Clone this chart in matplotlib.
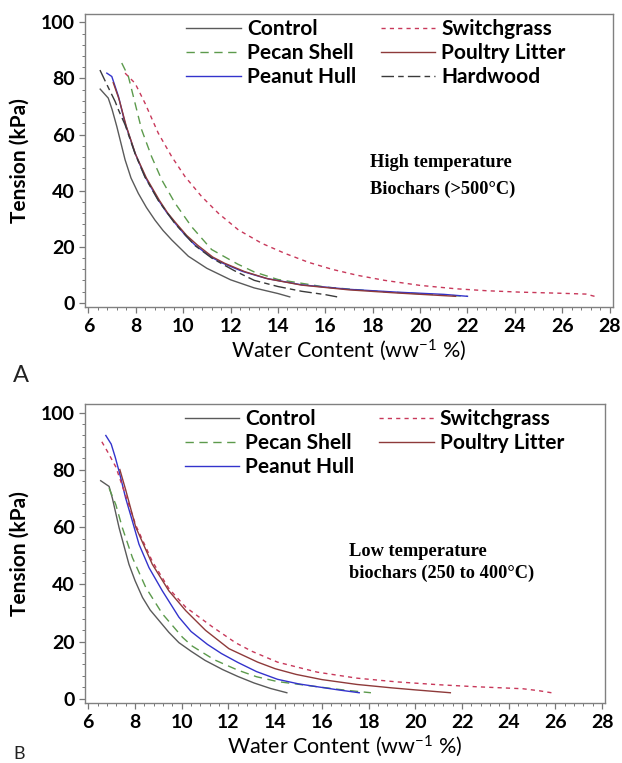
import matplotlib
matplotlib.use("Agg")
import matplotlib.pyplot as plt
from matplotlib.font_manager import FontProperties
from matplotlib.ticker import MultipleLocator, AutoMinorLocator

plt.rcParams["font.family"] = ["Lato", "DejaVu Sans"]
plt.rcParams["mathtext.default"] = "regular"

# ---- high temperature biochars (panel A) ----
ctrl_hi_x = [6.5, 6.84, 7.0, 7.2, 7.55, 7.8, 8.11, 8.45, 8.81, 9.15, 9.52, 10.22, 11.0, 12.0, 13.0, 14.0, 14.5]
ctrl_hi_y = [76.2, 73.0, 69.0, 62.9, 51.0, 44.5, 39.0, 34.0, 29.5, 25.8, 22.4, 16.6, 12.3, 8.2, 5.3, 3.3, 2.1]

pecan_hi_x = [7.41, 7.69, 7.97, 8.25, 8.67, 9.1, 9.66, 10.36, 11.2, 12.3, 13.0, 14.0, 16.0, 18.0, 20.0, 22.0]
pecan_hi_y = [85.5, 80.7, 71.2, 61.7, 52.1, 43.8, 35.5, 27.1, 19.0, 13.8, 11.0, 8.3, 5.6, 4.2, 3.2, 2.3]

peanut_hi_x = [6.78, 6.99, 7.27, 7.55, 7.97, 8.39, 8.95, 9.3, 9.66, 10.1, 10.5, 11.2, 11.65, 12.5, 13.5, 15.0,
               17.0, 19.0, 21.0, 22.0]
peanut_hi_y = [81.9, 80.7, 73.6, 64.0, 53.4, 45.0, 36.7, 32.3, 28.4, 24.0, 20.6, 16.2, 14.2, 11.2, 8.7, 6.4,
               4.8, 3.8, 3.0, 2.3]

switch_hi_x = [7.55, 7.97, 8.39, 8.95, 9.52, 10.08, 10.78, 11.49, 12.33, 13.32, 14.3, 15.3, 16.3, 17.35, 18.5,
               20.0, 21.5, 22.8, 24.2, 25.9, 27.0, 27.5]
switch_hi_y = [81.9, 78.3, 71.2, 60.5, 52.1, 45.0, 37.9, 31.9, 26.0, 21.2, 17.6, 14.4, 11.9, 9.8, 8.0,
               6.2, 5.0, 4.3, 3.8, 3.4, 3.1, 2.0]

poultry_hi_x = [7.05, 7.3, 7.6, 8.0, 8.45, 9.0, 9.35, 9.72, 10.15, 10.6, 11.25, 11.75, 12.6, 13.6, 15.0, 17.0,
                19.0, 21.5]
poultry_hi_y = [78.5, 72.5, 63.0, 52.8, 44.5, 36.5, 32.0, 28.2, 24.0, 20.6, 16.3, 14.1, 11.1, 8.5, 6.3, 4.6,
                3.5, 2.3]

hard_hi_x = [6.49, 6.8, 7.13, 7.27, 7.55, 7.97, 8.39, 8.95, 9.66, 10.5, 11.2, 11.7, 12.15, 13.0, 14.0, 15.0,
             16.0, 16.5]
hard_hi_y = [83.0, 77.5, 71.8, 68.8, 63.5, 53.2, 44.8, 36.5, 28.2, 20.4, 16.0, 13.6, 11.5, 8.0, 5.8, 4.1,
             2.9, 2.1]

# ---- low temperature biochars (panel B) ----
ctrl_lo_x = [6.53, 6.89, 7.03, 7.32, 7.74, 8.0, 8.32, 8.65, 9.03, 9.45, 9.88, 10.4, 11.0, 11.75, 12.4, 13.1,
             13.8, 14.5]
ctrl_lo_y = [76.2, 74.2, 70.1, 59.7, 47.0, 41.3, 35.4, 31.0, 27.3, 23.2, 19.6, 16.6, 13.4, 10.2, 7.8, 5.5,
             3.6, 2.1]

pecan_lo_x = [6.89, 7.18, 7.46, 7.89, 8.46, 9.17, 10.03, 10.45, 11.4, 12.4, 13.2, 14.1, 15.8, 17.0, 18.1]
pecan_lo_y = [73.6, 67.8, 59.7, 49.3, 38.9, 29.7, 21.5, 18.4, 13.6, 10.0, 7.7, 6.0, 4.2, 3.0, 2.1]

peanut_lo_x = [6.75, 6.98, 7.15, 7.32, 7.6, 7.89, 8.17, 8.6, 9.17, 9.88, 10.4, 11.1, 11.7, 12.4, 13.2, 14.1,
               15.0, 15.8, 16.7, 17.6]
peanut_lo_y = [92.0, 89.0, 84.5, 79.4, 70.1, 62.0, 54.0, 45.8, 37.7, 28.5, 23.5, 19.0, 15.8, 12.7, 9.5, 6.8,
               5.2, 4.2, 3.1, 2.1]

switch_lo_x = [6.58, 6.82, 7.18, 7.6, 8.04, 8.74, 9.45, 10.17, 11.3, 12.3, 13.0, 14.1, 15.8, 17.5, 19.2, 21.0,
               22.6, 24.6, 25.3, 25.9]
switch_lo_y = [89.8, 86.4, 81.0, 71.0, 60.5, 48.0, 38.5, 32.0, 25.2, 19.6, 16.6, 12.8, 9.3, 7.2, 5.9, 4.9,
               4.2, 3.5, 2.8, 2.0]

poultry_lo_x = [7.35, 7.6, 8.03, 8.74, 9.45, 10.17, 11.02, 12.02, 13.25, 14.0, 14.9, 16.0, 17.5, 19.0, 20.0, 21.5]
poultry_lo_y = [80.1, 73.0, 60.0, 47.0, 37.7, 30.8, 23.9, 17.5, 12.8, 10.5, 8.5, 6.7, 5.0, 3.8, 3.1, 2.1]

STYLES = {
    "Control": dict(color="#5a5a5a", ls="-"),
    "Pecan Shell": dict(color="#5c9a4c", ls=(0, (6, 4))),
    "Peanut Hull": dict(color="#3333cc", ls="-"),
    "Switchgrass": dict(color="#c8385a", ls=(0, (3, 3))),
    "Poultry Litter": dict(color="#8e3a3a", ls="-"),
    "Hardwood": dict(color="#3a3a3a", ls=(0, (9, 3, 4, 3))),
}

TICK_FONT = FontProperties(family=["Lato", "DejaVu Sans"], weight="bold", size=14)
LEGEND_FONT = FontProperties(family=["Lato", "DejaVu Sans"], weight="bold", size=15)


def draw_panel(ax, curves, notes, xmax):
    for name, xs, ys in curves:
        ax.plot(xs, ys, lw=1.0, label=name, **STYLES[name])

    ax.set_xlim(5.86, xmax)
    ax.set_ylim(-1.6, 103)
    ax.xaxis.set_major_locator(MultipleLocator(2))
    ax.xaxis.set_minor_locator(AutoMinorLocator(5))
    ax.yaxis.set_major_locator(MultipleLocator(20))
    ax.yaxis.set_minor_locator(AutoMinorLocator(5))
    ax.tick_params(which="both", direction="out", color="#777777")
    ax.tick_params(which="major", length=4.5, width=0.9, pad=3)
    ax.tick_params(which="minor", length=2.2, width=0.7)
    for lab in ax.get_xticklabels() + ax.get_yticklabels():
        lab.set_fontproperties(TICK_FONT)
    for s in ax.spines.values():
        s.set_color("#808080")
        s.set_linewidth(1.0)

    ax.set_xlabel("Water Content (ww$^{-1}$ %)", fontsize=15.5, labelpad=2)
    ax.set_ylabel("Tension (kPa)", fontsize=15, fontweight="bold", labelpad=8)

    for x, y, txt in notes:
        ax.text(x, y, txt, family=["Liberation Serif"], weight="bold", fontsize=13.2,
                va="center", ha="left")

    ax.legend(loc="upper left", bbox_to_anchor=(0.192, 0.983), ncol=2, frameon=False,
              prop=LEGEND_FONT, handlelength=2.6, handletextpad=0.3, columnspacing=1.2,
              labelspacing=0.19, borderpad=0.0, borderaxespad=0.0)


fig = plt.figure(figsize=(6.22, 7.63), dpi=100)

ax_a = fig.add_axes([0.1367, 0.5973, 0.8484, 0.3844])
draw_panel(
    ax_a,
    [
        ("Control", ctrl_hi_x, ctrl_hi_y),
        ("Pecan Shell", pecan_hi_x, pecan_hi_y),
        ("Peanut Hull", peanut_hi_x, peanut_hi_y),
        ("Switchgrass", switch_hi_x, switch_hi_y),
        ("Poultry Litter", poultry_hi_x, poultry_hi_y),
        ("Hardwood", hard_hi_x, hard_hi_y),
    ],
    [(17.9, 50, "High temperature"), (17.9, 40.5, "Biochars (>500°C)")],
    28.13,
)

ax_b = fig.add_axes([0.1367, 0.0782, 0.8352, 0.3923])
draw_panel(
    ax_b,
    [
        ("Control", ctrl_lo_x, ctrl_lo_y),
        ("Pecan Shell", pecan_lo_x, pecan_lo_y),
        ("Peanut Hull", peanut_lo_x, peanut_lo_y),
        ("Switchgrass", switch_lo_x, switch_lo_y),
        ("Poultry Litter", poultry_lo_x, poultry_lo_y),
    ],
    [(17.18, 51.4, "Low temperature"), (17.18, 43.75, "biochars (250 to 400°C)")],
    28.1,
)

fig.text(13 / 622, 1 - 365 / 763, "A", fontsize=17, va="top", ha="left", color="#222222")
fig.text(13 / 622, 1 - 746 / 763, "B", fontsize=13, va="top", ha="left", color="#222222")

fig.savefig("out.png", dpi=100)
